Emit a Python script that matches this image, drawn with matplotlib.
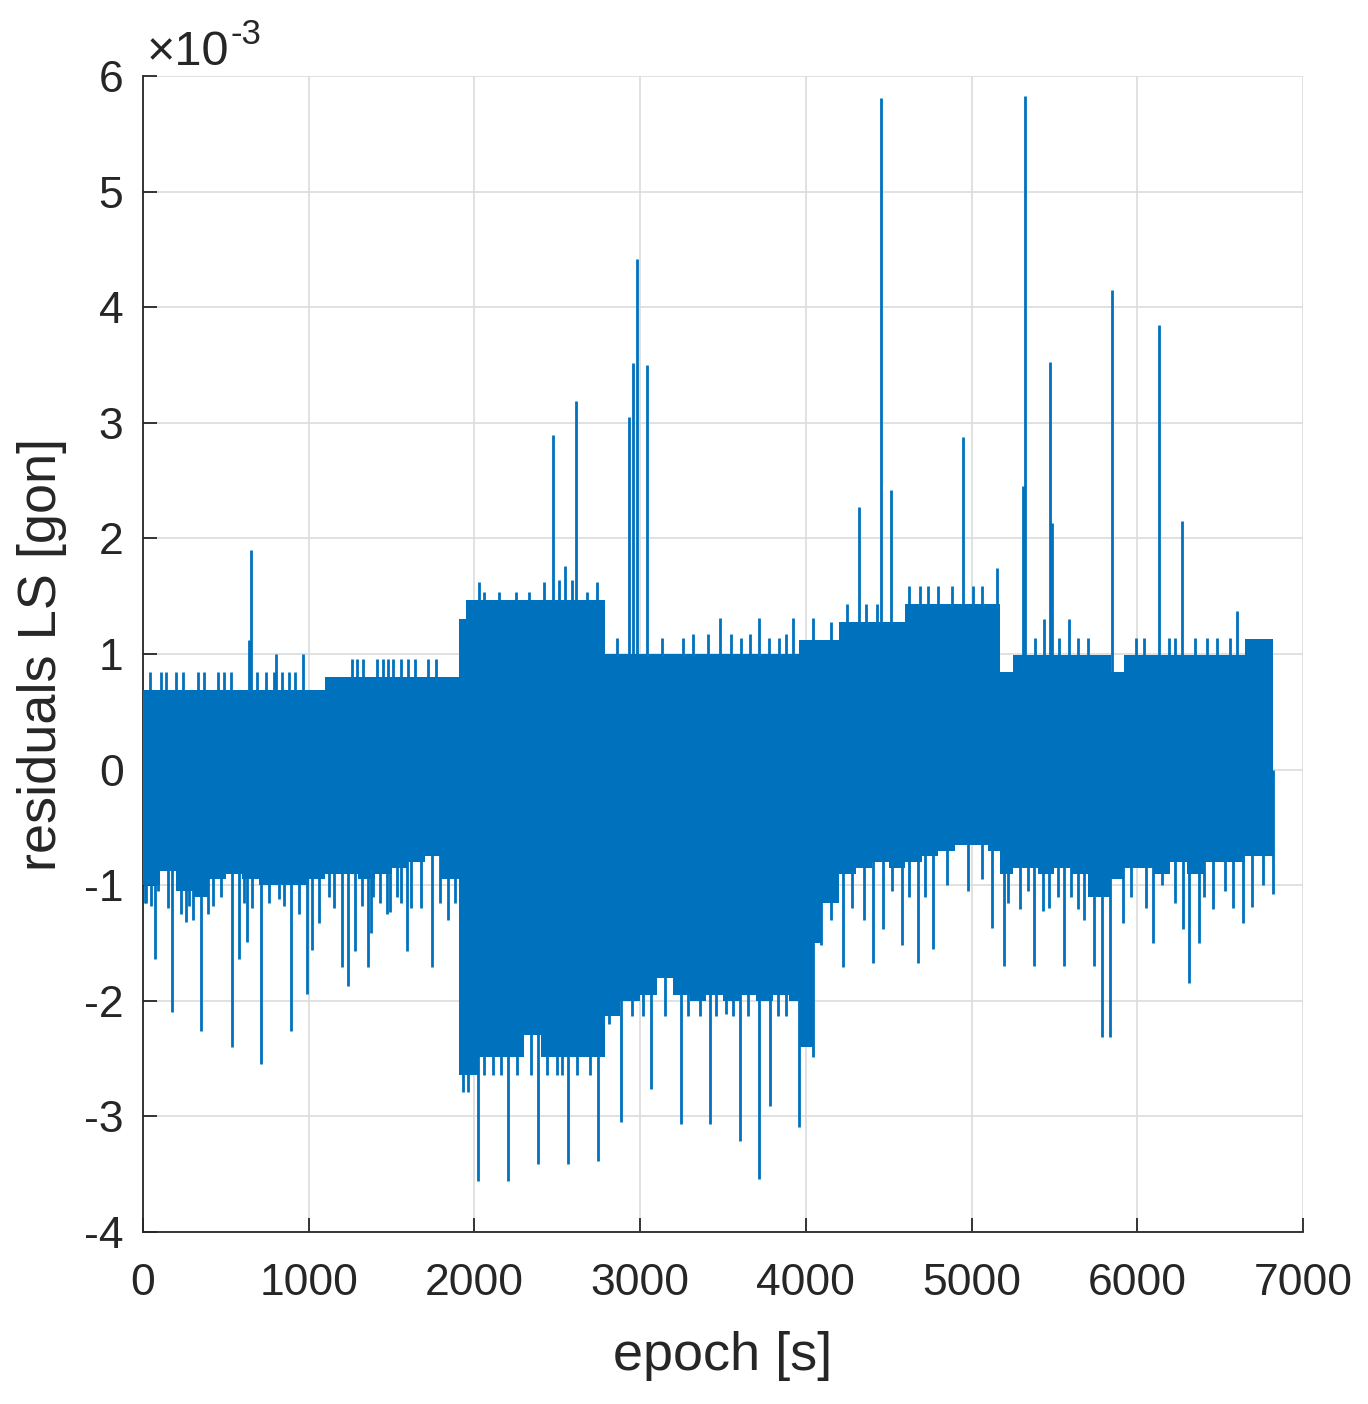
import numpy as np
import matplotlib
matplotlib.use('Agg')
import matplotlib.pyplot as plt

plt.rcParams['font.family'] = ['Liberation Sans', 'DejaVu Sans']
plt.rcParams['axes.unicode_minus'] = False

# residual band (values in 1e-3 gon), step edges starting at each epoch
env_epoch = [0, 100, 200, 300, 400, 500, 600, 700, 800, 900, 1000,
             1100, 1200, 1300, 1400, 1500, 1600, 1700, 1800,
             1905, 1950, 2030, 2100, 2200, 2300, 2400, 2500, 2600, 2700,
             2790, 2880, 3000, 3100, 3200, 3300, 3400, 3500, 3600, 3700, 3800, 3900,
             3960, 4050, 4100, 4200, 4300, 4400, 4500,
             4600, 4700, 4800, 4900, 5000, 5100,
             5170, 5250, 5300, 5400, 5500, 5600, 5700,
             5840, 5920, 6000, 6100, 6200, 6300, 6400, 6500, 6650, 6820]
env_upper = [0.69, 0.69, 0.69, 0.69, 0.69, 0.69, 0.69, 0.69, 0.69, 0.69, 0.69,
             0.80, 0.80, 0.80, 0.80, 0.80, 0.80, 0.80, 0.80,
             1.30, 1.47, 1.47, 1.47, 1.47, 1.47, 1.47, 1.47, 1.47, 1.47,
             1.00, 1.00, 1.00, 1.00, 1.00, 1.00, 1.00, 1.00, 1.00, 1.00, 1.00, 1.00,
             1.12, 1.12, 1.12, 1.28, 1.28, 1.28, 1.28,
             1.43, 1.43, 1.43, 1.43, 1.43, 1.43,
             0.84, 0.99, 0.99, 0.99, 0.99, 0.99, 0.99,
             0.84, 0.99, 0.99, 0.99, 0.99, 0.99, 0.99, 0.99, 1.13, 1.13]
env_lower = [-1.00, -0.88, -1.05, -1.10, -0.95, -0.90, -0.95, -1.00, -1.00, -1.00, -0.95,
             -0.90, -0.90, -0.95, -0.90, -0.85, -0.80, -0.75, -0.95,
             -2.64, -2.64, -2.49, -2.49, -2.49, -2.30, -2.49, -2.49, -2.49, -2.49,
             -2.13, -2.00, -1.95, -1.80, -1.95, -2.00, -1.95, -2.00, -1.95, -2.00, -1.95, -2.00,
             -2.40, -1.50, -1.15, -0.90, -0.85, -0.80, -0.85,
             -0.80, -0.75, -0.70, -0.65, -0.65, -0.70,
             -0.90, -0.85, -0.85, -0.90, -0.85, -0.90, -1.10,
             -0.95, -0.85, -0.85, -0.90, -0.80, -0.90, -0.80, -0.80, -0.75, -0.75]

# single large residuals
spike_up_epoch = [652, 640, 800, 965, 2030, 2475, 2547, 2613, 2933, 2957, 2981, 3041,
                  3480, 3720, 3925, 4045, 4322, 4454, 4514, 4950, 5152, 5313, 5322,
                  5437, 5473, 5487, 5588, 5847, 6131, 6270, 6602]
spike_up_value = [1.90, 1.12, 1.00, 1.00, 1.62, 2.89, 1.76, 3.19, 3.05, 3.52, 4.42, 3.50,
                  1.31, 1.31, 1.31, 1.31, 2.27, 5.81, 2.42, 2.88, 1.74, 2.45, 5.83,
                  1.30, 3.53, 2.13, 1.30, 4.15, 3.85, 2.15, 1.37]
spike_dn_epoch = [20, 72, 175, 350, 537, 580, 627, 712, 893, 990, 1020, 1200, 1237, 1280,
                  1358, 1376, 1490, 1593, 1744, 1840,
                  1960, 2020, 2204, 2383, 2497, 2565, 2745,
                  2885, 3066, 3247, 3422, 3518, 3603, 3717, 3784, 3959, 4043,
                  4091, 4222, 4403, 4467, 4580, 4677, 4766, 5125, 5196, 5292, 5377,
                  5430, 5558, 5641, 5739, 5788, 5835, 5915, 6096, 6275, 6313, 6373,
                  6459, 6638, 6690, 6818]
spike_dn_value = [-1.15, -1.64, -2.10, -2.26, -2.40, -1.64, -1.49, -2.55, -2.26, -1.94, -1.56,
                  -1.71, -1.87, -1.57, -1.71, -1.41, -1.23, -1.57, -1.71, -1.30,
                  -2.79, -3.56, -3.56, -3.41, -2.64, -3.41, -3.39,
                  -3.05, -2.76, -3.07, -3.07, -2.11, -3.21, -3.54, -2.91, -3.09, -2.49,
                  -1.52, -1.71, -1.67, -1.38, -1.52, -1.67, -1.55, -1.37, -1.70, -1.21, -1.70,
                  -1.22, -1.70, -1.21, -1.70, -2.31, -2.31, -1.33, -1.50, -1.38, -1.85, -1.50,
                  -1.21, -1.33, -1.19, -1.08]

# small quantisation steps on the band edges
bump_epoch = [40, 110, 140, 200, 240, 330, 370, 450, 490, 530, 690, 740, 790, 840, 880, 920,
              1260, 1290, 1330, 1410, 1450, 1480, 1510, 1560, 1600, 1640, 1720, 1770,
              2060, 2150, 2250, 2330, 2420, 2510, 2590, 2680, 2740,
              2860, 3130, 3260, 3320, 3410, 3550, 3610, 3660, 3780, 3840, 3880,
              4150, 4250, 4360, 4430, 4620, 4690, 4740, 4800, 4880, 5010, 5060,
              5380, 5530, 5640, 5700, 5990, 6040, 6190, 6230, 6350, 6420, 6480, 6560]
bump_value = [0.84, 0.84, 0.84, 0.84, 0.84, 0.84, 0.84, 0.84, 0.84, 0.84, 0.84, 0.84, 0.84,
              0.84, 0.84, 0.84,
              0.96, 0.96, 0.96, 0.96, 0.96, 0.96, 0.96, 0.96, 0.96, 0.96, 0.96, 0.96,
              1.54, 1.54, 1.54, 1.54, 1.62, 1.64, 1.64, 1.54, 1.62,
              1.14, 1.14, 1.14, 1.17, 1.17, 1.17, 1.14, 1.17, 1.14, 1.14, 1.17,
              1.28, 1.43, 1.43, 1.43, 1.59, 1.59, 1.59, 1.59, 1.59, 1.59, 1.59,
              1.14, 1.14, 1.14, 1.14, 1.14, 1.14, 1.14, 1.14, 1.14, 1.14, 1.14, 1.14]
dip_epoch = [15, 50, 90, 150, 230, 260, 280, 300, 390, 420, 470, 610, 660, 760, 820, 850,
             940, 1060, 1120, 1150, 1320, 1390, 1430, 1470, 1530, 1560, 1620, 1680, 1790, 1880,
             1930, 2060, 2110, 2160, 2260, 2340, 2440, 2530, 2620, 2700,
             2810, 2950, 3020, 3150, 3290, 3360, 3460, 3560, 3650, 3830, 3880,
             4150, 4280, 4350, 4520, 4620, 4720, 4850, 4980, 5060,
             5220, 5340, 5470, 5520, 5600, 5680, 5960, 6050, 6150, 6230, 6400, 6530, 6580, 6760]
dip_value = [-1.15, -1.18, -1.05, -1.20, -1.25, -1.32, -1.18, -1.30, -1.25, -1.18, -1.10,
             -1.15, -1.20, -1.15, -1.12, -1.18, -1.25, -1.33, -1.10, -1.20, -1.18, -1.10,
             -1.15, -1.25, -1.10, -1.15, -1.20, -1.20, -1.15, -1.15,
             -2.79, -2.64, -2.64, -2.64, -2.64, -2.64, -2.64, -2.64, -2.64, -2.64,
             -2.20, -2.13, -2.13, -2.13, -2.13, -2.13, -2.13, -2.13, -2.13, -2.13, -2.13,
             -1.30, -1.20, -1.30, -1.05, -1.10, -1.10, -1.00, -1.05, -0.95,
             -1.15, -1.05, -1.20, -1.10, -1.10, -1.30, -1.10, -1.20, -1.00, -1.15, -1.10,
             -1.05, -1.20, -1.00]

blue = '#0072BD'
ink = '#262626'

fig = plt.figure(figsize=(13.68, 14.04), dpi=100)
ax = fig.add_axes([0.1045, 0.1225, 0.848, 0.8234])

ax.fill_between(env_epoch, env_lower, env_upper, step='post',
                color=blue, linewidth=0, zorder=3)
ax.vlines(bump_epoch, 0, bump_value, color=blue, linewidth=2.0, zorder=3)
ax.vlines(dip_epoch, 0, dip_value, color=blue, linewidth=2.0, zorder=3)
ax.vlines(spike_up_epoch, 0, spike_up_value, color=blue, linewidth=2.0, zorder=3)
ax.vlines(spike_dn_epoch, 0, spike_dn_value, color=blue, linewidth=2.0, zorder=3)

ax.set_xlim(0, 7000)
ax.set_ylim(-4, 6)
ax.set_xticks(np.arange(0, 7001, 1000))
ax.set_yticks(np.arange(-4, 7, 1))
ax.grid(True, color='#dcdcdc', linewidth=1.2, zorder=0)
ax.set_axisbelow(True)

for side in ['top', 'right']:
    ax.spines[side].set_visible(False)
for side in ['left', 'bottom']:
    ax.spines[side].set_color(ink)
    ax.spines[side].set_linewidth(1.3)
ax.tick_params(direction='in', length=10, width=1.3, colors=ink, labelsize=32)
ax.tick_params(axis='x', pad=22)
ax.tick_params(axis='y', pad=14)

ax.set_xlabel('epoch [s]', fontsize=39, color=ink, labelpad=20)
ax.set_ylabel('residuals LS [gon]', fontsize=39, color=ink, labelpad=12)

# exponent label, MATLAB style
ax.annotate('\u00d710', xy=(0, 1), xycoords='axes fraction', xytext=(3, 8),
            textcoords='offset points', fontsize=35, color=ink, ha='left', va='baseline')
ax.annotate('-3', xy=(0, 1), xycoords='axes fraction', xytext=(63, 23),
            textcoords='offset points', fontsize=25, color=ink, ha='left', va='baseline')

fig.savefig('out.png', dpi=100)
